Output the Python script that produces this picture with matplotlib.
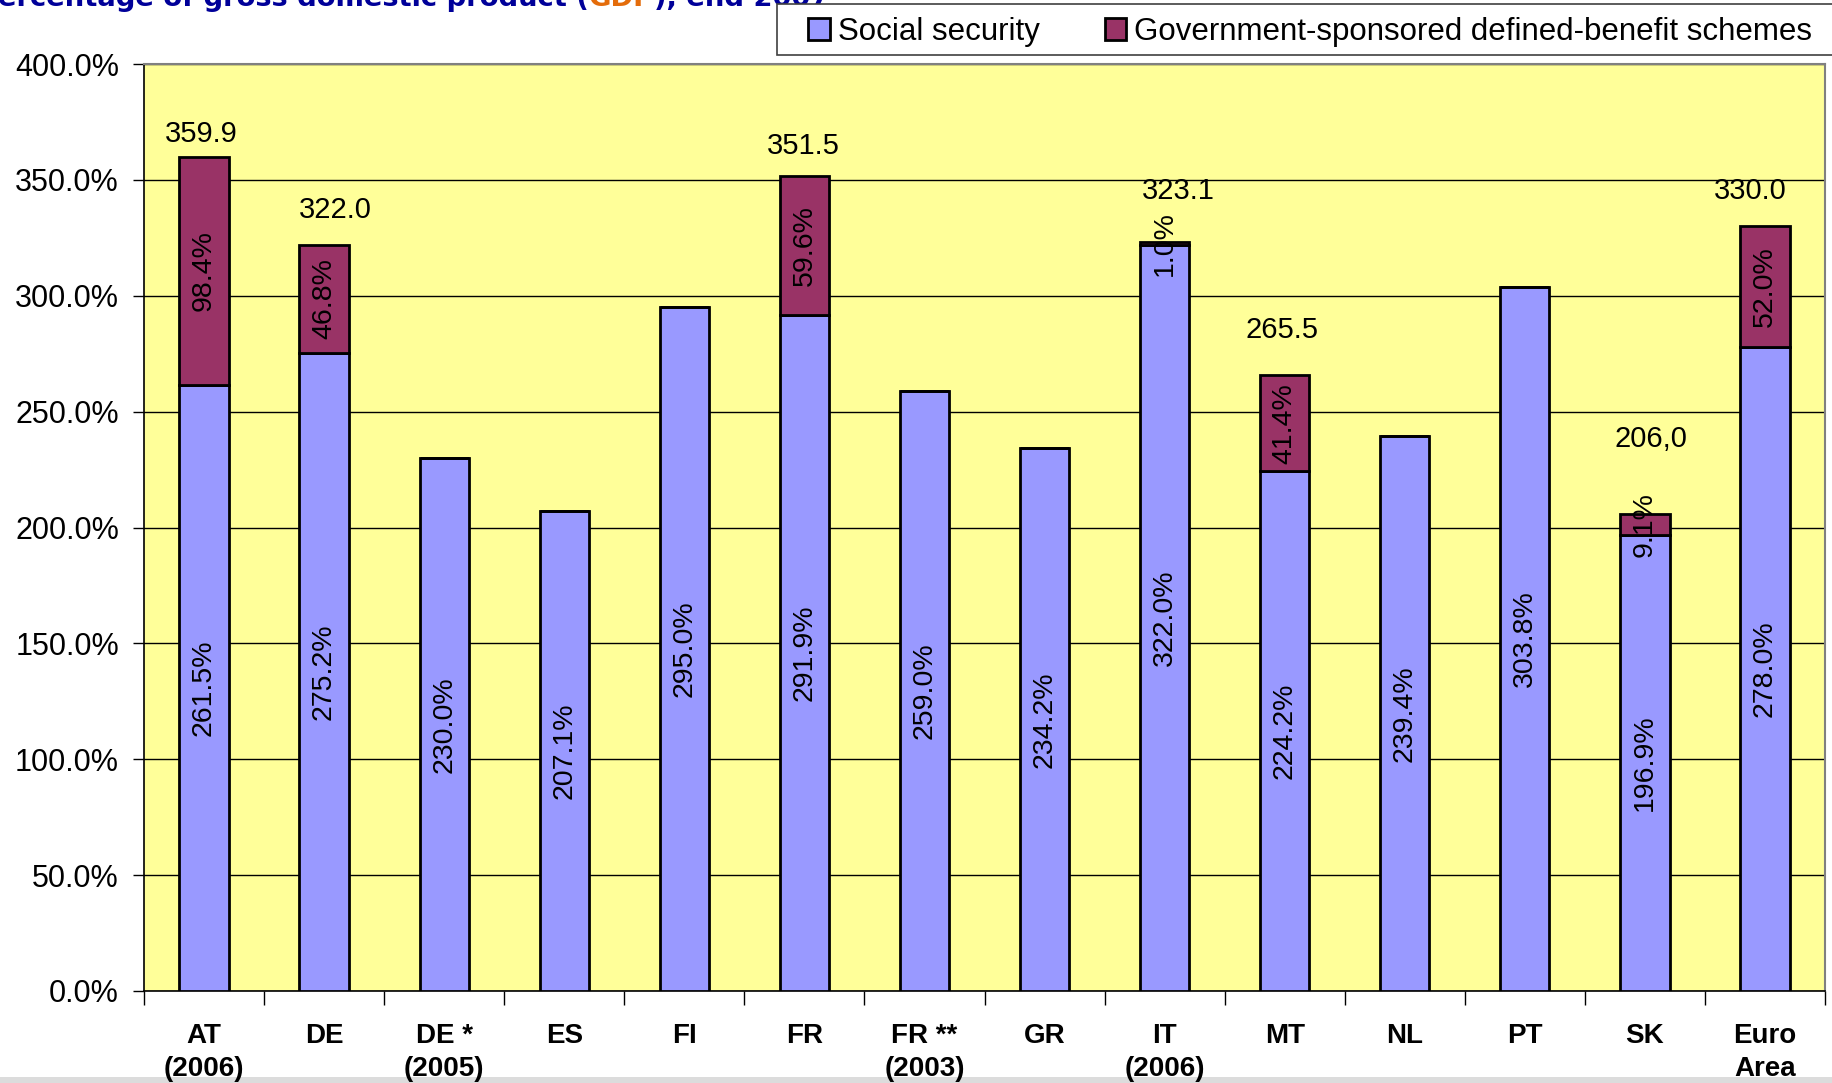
import matplotlib
matplotlib.use("Agg")
import matplotlib.pyplot as plt
from matplotlib.patches import Patch, Rectangle
from matplotlib.ticker import FixedLocator, FuncFormatter
import numpy as np

categories = ["AT\n(2006)", "DE", "DE *\n(2005)", "ES", "FI", "FR", "FR **\n(2003)",
              "GR", "IT\n(2006)", "MT", "NL", "PT", "SK", "Euro\nArea"]
social_security = [261.5, 275.2, 230.0, 207.1, 295.0, 291.9, 259.0,
                   234.2, 322.0, 224.2, 239.4, 303.8, 196.9, 278.0]
gov_schemes = [98.4, 46.8, 0, 0, 0, 59.6, 0, 0, 1.0, 41.4, 0, 0, 9.1, 52.0]
total_labels = ["359.9", "322.0", "", "", "", "351.5", "", "", "323.1",
                "265.5", "", "", "206,0", "330.0"]
y_ticks = [0, 50, 100, 150, 200, 250, 300, 350, 400]

# label placement (layout only)
total_dx = [-0.02, 0.09, 0, 0, 0, -0.01, 0, 0, 0.11, -0.02, 0, 0, 0.05, -0.12]
total_dy = [10, 15, 0, 0, 0, 13, 0, 0, 22, 19.5, 0, 0, 32, 15]

C_SS = "#9999FF"
C_GOV = "#993366"
C_BG = "#FFFF99"
FONT = "Liberation Sans"

plt.rcParams["font.family"] = [FONT, "DejaVu Sans"]

W, H = 1832, 1083
fig = plt.figure(figsize=(W / 100, H / 100), dpi=100)

# bottom gray band (behind everything)
fig.patches.append(Rectangle((0, 0), 1, 6/H, transform=fig.transFigure,
                             facecolor="#dcdcdc", edgecolor="none", zorder=-5))

ax = fig.add_axes([144/W, 1-991/H, (1825-144)/W, (991-64)/H])
ax.set_facecolor(C_BG)

x = np.arange(len(categories))
w = 0.41
ax.bar(x, social_security, width=w, color=C_SS, edgecolor="black", linewidth=2, zorder=3)
ax.bar(x, gov_schemes, bottom=social_security, width=w, color=C_GOV,
       edgecolor="black", linewidth=2, zorder=3)

ax.set_xlim(-0.5, len(categories) - 0.5)
ax.set_ylim(0, 400)
ax.yaxis.set_major_locator(FixedLocator(y_ticks))
ax.yaxis.set_major_formatter(FuncFormatter(lambda v, p: f"{v:.1f}%"))
ax.grid(axis="y", color="black", linewidth=1, zorder=1)
ax.set_axisbelow(True)

ax.set_xticks(x)
ax.set_xticklabels(categories, fontweight="bold", fontsize=20, linespacing=1.35)
ax.set_xticks(np.arange(-0.5, len(categories), 1.0), minor=True)
ax.tick_params(axis="x", which="major", length=0, pad=23)
ax.tick_params(axis="x", which="minor", length=10, width=1, color="black")
ax.tick_params(axis="y", length=8, width=1, labelsize=22, pad=10)

for s in ["top", "right"]:
    ax.spines[s].set_color("#808080")
    ax.spines[s].set_linewidth(1.5)
ax.spines["left"].set_color("black")
ax.spines["bottom"].set_color("black")
ax.spines["left"].set_linewidth(1.2)
ax.spines["bottom"].set_linewidth(1.2)

# value labels
for i in range(len(categories)):
    ss = social_security[i]
    ax.text(x[i], ss / 2, f"{ss:.1f}%", rotation=90, ha="center", va="center",
            fontsize=20.5, zorder=5)
    g = gov_schemes[i]
    if g > 0:
        ax.text(x[i], ss + g / 2, f"{g:.1f}%", rotation=90, ha="center", va="center",
                fontsize=20.5, zorder=5)
    if total_labels[i]:
        ax.text(x[i] + total_dx[i], ss + g + total_dy[i], total_labels[i],
                ha="center", va="center", fontsize=21, zorder=5)

# legend frame (extends past the right edge, as in the reference)
fig.patches.append(Rectangle((777/W, 1 - 55/H), (W + 20 - 777)/W, 51/H,
                             transform=fig.transFigure, facecolor="white",
                             edgecolor="#404040", linewidth=1.2, zorder=4))
handles = [Patch(facecolor=C_SS, edgecolor="black", linewidth=2, label="Social security"),
           Patch(facecolor=C_GOV, edgecolor="black", linewidth=2,
                 label="Government-sponsored defined-benefit schemes")]
leg = fig.legend(handles=handles, loc="center left", bbox_to_anchor=(808/W, 1 - 32/H),
                 ncol=2, fontsize=22.5, frameon=False, handlelength=0.7,
                 handleheight=0.7, handletextpad=0.25, columnspacing=2.08,
                 borderpad=0, borderaxespad=0)
leg.set_zorder(6)

# clipped title
fig.canvas.draw()
renderer = fig.canvas.get_renderer()
pieces = [("Percentage of gross domestic product (", "#000099"),
          ("GDP", "#E46C0A"),
          ("), end 2007", "#000099")]
xpos = -22
for txt, col in pieces:
    t = fig.text(xpos / W, 1 - 6/H, txt, color=col, fontsize=19.7,
                 fontweight="bold", family="DejaVu Sans", va="baseline", ha="left")
    bb = t.get_window_extent(renderer)
    xpos = bb.x1

fig.savefig("out.png", dpi=100)
